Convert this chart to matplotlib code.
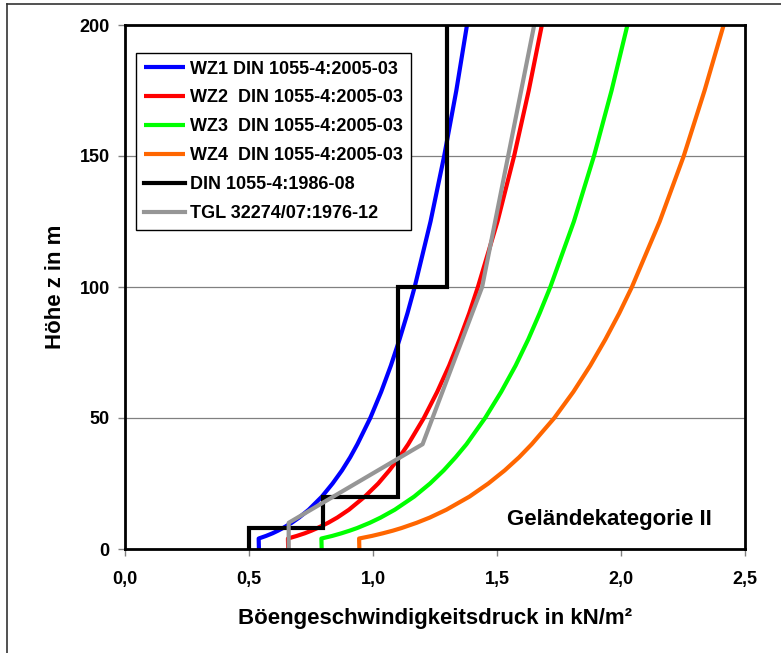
import numpy as np
from matplotlib import pyplot as plt
from matplotlib.lines import Line2D

plt.rcParams['font.family'] = ['Liberation Sans', 'DejaVu Sans']
plt.rcParams['font.weight'] = 'bold'

# heights (m) for the DIN 1055-4:2005-03 profiles
z_profile = [0, 4, 5, 6, 7, 8, 10, 12, 15, 20, 25, 30, 35, 40, 50, 60, 70, 80, 90, 100, 125, 150, 175, 200]

# gust pressure (kN/m²) per wind zone
q_wz1 = [0.540, 0.539, 0.569, 0.595, 0.617, 0.637, 0.672, 0.702, 0.741, 0.794, 0.837, 0.875, 0.908,
         0.937, 0.989, 1.033, 1.072, 1.107, 1.139, 1.168, 1.232, 1.287, 1.336, 1.379]
q_wz2 = [0.658, 0.657, 0.693, 0.725, 0.752, 0.776, 0.819, 0.856, 0.903, 0.967, 1.021, 1.066, 1.106,
         1.142, 1.205, 1.259, 1.307, 1.349, 1.388, 1.423, 1.502, 1.569, 1.628, 1.681]
q_wz3 = [0.793, 0.792, 0.836, 0.873, 0.906, 0.936, 0.987, 1.031, 1.088, 1.166, 1.230, 1.285, 1.333,
         1.377, 1.452, 1.517, 1.575, 1.626, 1.672, 1.715, 1.810, 1.891, 1.962, 2.026]
q_wz4 = [0.945, 0.944, 0.996, 1.040, 1.080, 1.115, 1.176, 1.229, 1.296, 1.389, 1.465, 1.531, 1.589,
         1.640, 1.731, 1.808, 1.876, 1.937, 1.993, 2.044, 2.156, 2.253, 2.337, 2.414]

# DIN 1055-4:1986-08, constant pressure between height limits
z_din1986 = [0, 8, 20, 100, 200]
q_din1986 = [0.5, 0.8, 1.1, 1.3]

# TGL 32274/07:1976-12
z_tgl = [0, 10, 40, 100, 200]
q_tgl = [0.66, 0.66, 1.20, 1.44, 1.65]

labels = [
    'WZ1 DIN 1055-4:2005-03',
    'WZ2  DIN 1055-4:2005-03',
    'WZ3  DIN 1055-4:2005-03',
    'WZ4  DIN 1055-4:2005-03',
    'DIN 1055-4:1986-08',
    'TGL 32274/07:1976-12',
]
colors = ['#0000FF', '#FF0000', '#00FF00', '#FF6600', '#000000', '#969696']

fig = plt.figure(figsize=(7.81, 6.53), dpi=100)
ax = fig.add_axes([125 / 781, 104 / 653, 620 / 781, 524 / 653])

lw = 3.0
for q, c, lab in zip([q_wz1, q_wz2, q_wz3, q_wz4], colors[:4], labels[:4]):
    ax.plot(q, z_profile, color=c, lw=lw, label=lab, solid_capstyle='butt')

# step profile from the height limits
step_z = np.repeat(z_din1986, 2)[1:-1]
step_q = np.repeat(q_din1986, 2)
ax.plot(step_q, step_z, color=colors[4], lw=lw, label=labels[4], solid_joinstyle='miter')

ax.plot(q_tgl, z_tgl, color=colors[5], lw=lw, label=labels[5])

ax.set_xlim(0, 2.5)
ax.set_ylim(0, 200)
ax.set_xticks(np.arange(0, 2.51, 0.5))
ax.set_xticklabels([f'{v:.1f}'.replace('.', ',') for v in np.arange(0, 2.51, 0.5)])
ax.set_yticks([0, 50, 100, 150, 200])
ax.yaxis.grid(True, color='#808080', lw=0.9)
ax.set_axisbelow(True)

for s in ax.spines.values():
    s.set_linewidth(2.0)
    s.set_color('black')

ax.tick_params(axis='both', direction='out', length=5, width=1, color='#808080', labelsize=13)
ax.tick_params(axis='x', pad=11)
ax.tick_params(axis='y', pad=6)

ax.set_xlabel('Böengeschwindigkeitsdruck in kN/m²', fontsize=16, fontweight='bold', labelpad=14)
ax.set_ylabel('Höhe z in m', fontsize=16, fontweight='bold', labelpad=9.5)

ax.text(0.947, 0.057, 'Geländekategorie II', transform=ax.transAxes, fontsize=16,
        fontweight='bold', ha='right', va='center')

leg = ax.legend(loc='upper left', bbox_to_anchor=(11 / 620, 496 / 524), borderaxespad=0,
                fontsize=13, handlelength=2.3, handletextpad=0.28, labelspacing=0.66,
                borderpad=0.42, fancybox=False, framealpha=1, edgecolor='black')
leg.get_frame().set_linewidth(1.0)

# outer frame of the chart area
fig.add_artist(Line2D([7 / 781, 7 / 781], [-0.01, 1 - 4 / 653], color='#333333', lw=1.2,
                      transform=fig.transFigure))
fig.add_artist(Line2D([7 / 781, 1.01], [1 - 4 / 653, 1 - 4 / 653], color='#333333', lw=1.2,
                      transform=fig.transFigure))

plt.savefig('out.png', dpi=100)
